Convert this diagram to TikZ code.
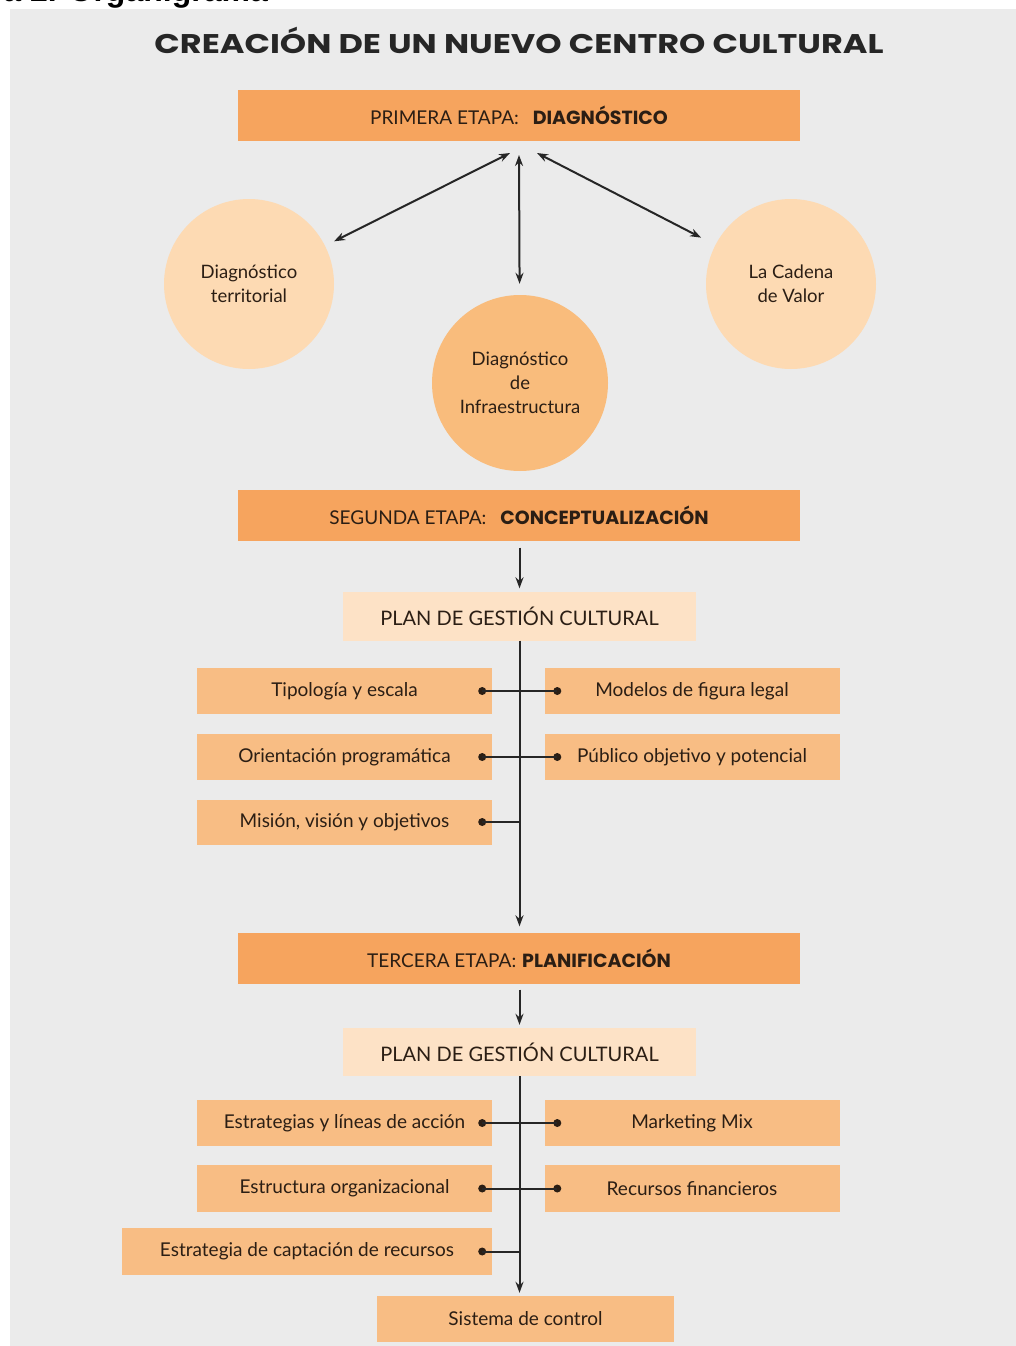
\documentclass[tikz,border=0pt]{standalone}
\usepackage{fontspec}
\setmainfont{Lato}
\newfontfamily\titlefont{Poppins}
\newfontfamily\arialfont{Liberation Sans}
\usetikzlibrary{arrows.meta,calc}
\definecolor{panel}{HTML}{EBEBEB}
\definecolor{stagec}{HTML}{F6A45E}
\definecolor{itemc}{HTML}{F8BD84}
\definecolor{planc}{HTML}{FDE2C6}
\definecolor{sidec}{HTML}{FDDAB3}
\definecolor{midc}{HTML}{F9BC7C}
\definecolor{txt}{HTML}{2B1E14}
\definecolor{ink}{HTML}{262626}
\newcommand{\stb}[1]{{\titlefont\fontseries{sb}\selectfont #1}}
\tikzset{
  stagebox/.style={fill=stagec, minimum width=562pt, minimum height=51pt, inner sep=0pt, text=txt, font=\fontsize{19}{22}\selectfont},
  itembox/.style={fill=itemc, minimum width=295pt, minimum height=46pt, inner sep=0pt, text=txt, font=\fontsize{19}{22}\selectfont},
  planbox/.style={fill=planc, minimum width=353pt, minimum height=49pt, inner sep=0pt, text=txt, font=\fontsize{20}{23}\selectfont},
  circ/.style={circle, inner sep=0pt, text=txt, align=center, font=\fontsize{18.5}{24}\selectfont},
  arr/.style={draw=ink, line width=2pt, -{Stealth[length=11pt,width=8pt]}},
  darr/.style={draw=ink, line width=2pt, {Stealth[length=11pt,width=8pt]}-{Stealth[length=11pt,width=8pt]}},
  conn/.style={draw=ink, line width=2pt},
  dotc/.style={circle, fill=txt, inner sep=0pt, minimum size=8pt}
}
\begin{document}
\begin{tikzpicture}[x=1pt,y=-1pt]
\useasboundingbox (0,0) rectangle (1016,1346);
\clip (0,0) rectangle (1016,1346);
\fill[white] (0,0) rectangle (1016,1346);
\fill[panel] (10,9) rectangle (1016,1346);
% cut header
\node[anchor=base east, font=\arialfont\bfseries\fontsize{32}{32}\selectfont, inner sep=0pt] (hdr) at (268,2) {Figura 2. Organigrama};
% title
\node[font=\titlefont\bfseries\fontsize{27}{30}\selectfont, text=ink] (title) at (519,40) {\scalebox{1.24}[1]{CREACIÓN DE UN NUEVO CENTRO CULTURAL}};
% stage 1
\node[stagebox] (s1) at (519,115.5) {PRIMERA ETAPA:\hspace{14pt}\stb{DIAGNÓSTICO}};
\node[circ, fill=sidec, minimum size=170pt] (cL) at (249,284) {Diagnóstico\\territorial};
\node[circ, fill=sidec, minimum size=170pt] (cR) at (791,284) {La Cadena\\de Valor};
\node[circ, fill=midc, minimum size=176pt] (cM) at (520,383) {Diagnóstico\\de\\Infraestructura};
\coordinate (p1) at (510,153);
\coordinate (p2) at (519,155);
\coordinate (p3) at (537,153);
\draw[darr, shorten >=10pt] (p1) -- (cL);
\draw[darr, shorten >=11pt] (p2) -- (cM);
\draw[darr, shorten >=16pt] (p3) -- (cR);
% stage 2
\node[stagebox] (s2) at (519,515) {SEGUNDA ETAPA:\hspace{14pt}\stb{CONCEPTUALIZACIÓN}};
\node[planbox] (pl1) at (519.5,616) {PLAN DE GESTIÓN CULTURAL};
\draw[arr, shorten <=7pt, shorten >=3pt] (s2.south -| pl1.south) -- (pl1.north);
\node[itembox] (t1) at (344.5,691) {Tipología y escala};
\node[itembox] (t2) at (344.5,757) {Orientación programática};
\node[itembox, minimum height=45pt] (t3) at (344.5,822) {Misión, visión y objetivos};
\node[itembox] (m1) at (692,691) {Modelos de figura legal};
\node[itembox] (m2) at (692,757) {Público objetivo y potencial};
% stage 3
\node[stagebox] (s3) at (519,958) {TERCERA ETAPA:\hspace{6pt}\stb{PLANIFICACIÓN}};
\draw[arr, shorten >=6pt] (pl1.south) -- (s3.north -| pl1.south);
\node[dotc] (dt1) at ([xshift=-10pt]t1.east) {};
\node[dotc] (dm1) at ([xshift=13pt]m1.west) {};
\node[dotc] (dt2) at ([xshift=-10pt]t2.east) {};
\node[dotc] (dm2) at ([xshift=13pt]m2.west) {};
\node[dotc] (dt3) at ([xshift=-10pt]t3.east) {};
\draw[conn] (dt1.center) -- (dm1.center);
\draw[conn] (dt2.center) -- (dm2.center);
\draw[conn] (dt3.center) -- (dt3.center -| pl1.south);
% planificación
\node[planbox, minimum height=48pt] (pl2) at (519.5,1052) {PLAN DE GESTIÓN CULTURAL};
\draw[arr, shorten <=6pt, shorten >=3pt] (s3.south -| pl2.south) -- (pl2.north);
\node[itembox] (e1) at (344.5,1123) {Estrategias y líneas de acción};
\node[itembox, minimum height=47pt] (e2) at (344.5,1188.5) {Estructura organizacional};
\node[itembox, minimum height=47pt, minimum width=370pt] (e3) at (307,1251.5) {Estrategia de captación de recursos};
\node[itembox] (mm) at (692,1123) {Marketing Mix};
\node[itembox, minimum height=47pt] (rf) at (692,1188.5) {Recursos financieros};
\node[itembox, minimum width=297pt] (sc) at (525.5,1319) {Sistema de control};
\draw[arr, shorten >=3pt] (pl2.south) -- (sc.north -| pl2.south);
\node[dotc] (de1) at ([xshift=-10pt]e1.east) {};
\node[dotc] (dmm) at ([xshift=13pt]mm.west) {};
\node[dotc] (de2) at ([xshift=-10pt]e2.east) {};
\node[dotc] (drf) at ([xshift=13pt]rf.west) {};
\node[dotc] (de3) at ([xshift=-10pt]e3.east) {};
\draw[conn] (de1.center) -- (dmm.center);
\draw[conn] (de2.center) -- (drf.center);
\draw[conn] (de3.center) -- (de3.center -| pl2.south);
\end{tikzpicture}
\end{document}
